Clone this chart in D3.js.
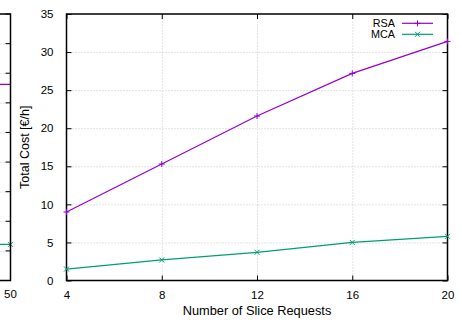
<!DOCTYPE html>
<html>
<head>
<meta charset="utf-8">
<script src="https://cdn.jsdelivr.net/npm/d3@7"></script>
<style>
  body { margin: 0; background: #fff; }
  text { font-family: "Liberation Sans", Arial, sans-serif; font-size: 11px; fill: #000; }
  .grid line { stroke: #c8c8c8; stroke-dasharray: 1,2; }
  .grid path { display: none; }
</style>
</head>
<body>
<div id="chart"></div>
<script>
// slice request counts on x
var requests = [4, 8, 12, 16, 20];
var rsaCost = [9.0, 15.3, 21.6, 27.2, 31.4];
var mcaCost = [1.5, 2.7, 3.7, 5.0, 5.8];
var yTicks = [0, 5, 10, 15, 20, 25, 30, 35];

// edge of the neighbouring plot (only its last x value shows)
var leftX = [50];
var leftRSA = [33.1];
var leftMCA = [6.1];
var leftTicks = [0, 5, 10, 15, 20, 25, 30, 35, 40, 45];

var W = 462, H = 324;
var margin = {top: 14, left: 66.5, right: 14.5, bottom: 43.5};
var width = W - margin.left - margin.right,
    height = H - margin.top - margin.bottom;

var purple = "#9400d3", green = "#009e73";
var fontFam = "Liberation Sans, Arial, sans-serif";

var svg = d3.select("#chart").append("svg")
    .attr("width", W)
    .attr("height", H);

// ---- neighbouring plot, clipped at the left ----
var lx = d3.scaleLinear().domain([40, 50]).range([-300, 10.5]);
var ly = d3.scaleLinear().domain([0, 45]).range([margin.top + height, margin.top]);

var lg = svg.append("g");
lg.append("g")
    .attr("class", "grid")
    .attr("transform", "translate(10.5,0)")
    .call(d3.axisLeft(ly).tickValues(leftTicks).tickSize(20).tickFormat(""));
lg.selectAll(".ltick").data(leftTicks).enter().append("line")
    .attr("x1", 5.5).attr("x2", 10.5)
    .attr("y1", function(d) { return ly(d); })
    .attr("y2", function(d) { return ly(d); })
    .attr("stroke", "#000");
lg.append("line").attr("x1", lx(40)).attr("x2", lx(50))
    .attr("y1", ly(leftRSA[0])).attr("y2", ly(leftRSA[0]))
    .attr("stroke", purple).attr("stroke-width", 1.2);
lg.append("line").attr("x1", lx(40)).attr("x2", lx(50))
    .attr("y1", ly(leftMCA[0])).attr("y2", ly(leftMCA[0]))
    .attr("stroke", green).attr("stroke-width", 1.2);
lg.append("path")
    .attr("d", "M" + (lx(leftX[0]) - 2.5) + "," + (ly(leftMCA[0]) - 2.5) + "l5,5M" + (lx(leftX[0]) - 2.5) + "," + (ly(leftMCA[0]) + 2.5) + "l5,-5")
    .attr("stroke", green).attr("stroke-width", 1);
lg.append("path")
    .attr("d", "M-5," + margin.top + "H10.5V" + (margin.top + height) + "H-5")
    .attr("fill", "none").attr("stroke", "#000").attr("stroke-width", 1.5);
lg.append("text").attr("x", lx(leftX[0])).attr("y", margin.top + height + 17)
    .attr("text-anchor", "middle").style("font-size", "11.5px").text(leftX[0]);

// ---- main plot ----
var g = svg.append("g")
    .attr("transform", "translate(" + margin.left + "," + margin.top + ")");

var x = d3.scaleLinear().domain([4, 20]).range([0, width]);
var y = d3.scaleLinear().domain([0, 35]).range([height, 0]);

// gridlines
g.append("g")
    .attr("class", "grid")
    .call(d3.axisLeft(y).tickValues(yTicks.slice(1, -1)).tickSize(-width).tickFormat(""));
g.append("g")
    .attr("class", "grid")
    .attr("transform", "translate(0," + height + ")")
    .call(d3.axisBottom(x).tickValues(requests.slice(1, -1)).tickSize(-height).tickFormat(""));

// axes with inward ticks on all sides
var ax = function(sel) {
    sel.select(".domain").remove();
    sel.selectAll("line").attr("stroke", "#000");
    sel.selectAll("text").style("font-size", "11.5px").style("font-family", fontFam);
};
g.append("g").call(d3.axisLeft(y).tickValues(yTicks).tickSize(-5).tickPadding(13)).call(ax);
g.append("g").attr("transform", "translate(" + width + ",0)")
    .call(d3.axisRight(y).tickValues(yTicks).tickSize(-5).tickFormat("")).call(ax);
g.append("g").attr("transform", "translate(0," + height + ")")
    .call(d3.axisBottom(x).tickValues(requests).tickSize(-5).tickPadding(10)).call(ax);
g.append("g")
    .call(d3.axisTop(x).tickValues(requests).tickSize(-5).tickFormat("")).call(ax);

g.append("rect").attr("width", width).attr("height", height)
    .attr("fill", "none").attr("stroke", "#000").attr("stroke-width", 1.5);

// lines
var line = d3.line()
    .x(function(d, i) { return x(requests[i]); })
    .y(function(d) { return y(d); });

function plus(sel, color) {
    sel.append("path")
        .attr("d", function(d, i) { var px = x(requests[i]), py = y(d); return "M" + (px - 3) + "," + py + "h6M" + px + "," + (py - 3) + "v6"; })
        .attr("stroke", color).attr("stroke-width", 1);
}
function cross(sel, color) {
    sel.append("path")
        .attr("d", function(d, i) { var px = x(requests[i]), py = y(d); return "M" + (px - 2.5) + "," + (py - 2.5) + "l5,5M" + (px - 2.5) + "," + (py + 2.5) + "l5,-5"; })
        .attr("stroke", color).attr("stroke-width", 1);
}

g.append("path").datum(rsaCost).attr("d", line)
    .attr("fill", "none").attr("stroke", purple).attr("stroke-width", 1.2);
plus(g.selectAll(".rp").data(rsaCost).enter().append("g"), purple);

g.append("path").datum(mcaCost).attr("d", line)
    .attr("fill", "none").attr("stroke", green).attr("stroke-width", 1.2);
cross(g.selectAll(".mp").data(mcaCost).enter().append("g"), green);

// legend
var legend = [["RSA", purple, "plus"], ["MCA", green, "cross"]];
legend.forEach(function(l, i) {
    var ly0 = 9.3 + i * 11;
    g.append("text").attr("x", 328.5).attr("y", ly0 + 4).attr("text-anchor", "end")
        .style("font-size", "10.8px").text(l[0]);
    g.append("line").attr("x1", 335.5).attr("x2", 366.5).attr("y1", ly0).attr("y2", ly0)
        .attr("stroke", l[1]).attr("stroke-width", 1.2);
    var cx = 351;
    g.append("path")
        .attr("d", l[2] == "plus"
            ? "M" + (cx - 3) + "," + ly0 + "h6M" + cx + "," + (ly0 - 3) + "v6"
            : "M" + (cx - 2.5) + "," + (ly0 - 2.5) + "l5,5M" + (cx - 2.5) + "," + (ly0 + 2.5) + "l5,-5")
        .attr("stroke", l[1]).attr("stroke-width", 1);
});

// axis labels
svg.append("text")
    .attr("x", margin.left + width / 2).attr("y", 315)
    .attr("text-anchor", "middle")
    .style("font-size", "12.8px")
    .text("Number of Slice Requests");
svg.append("text")
    .attr("transform", "translate(28.5," + (margin.top + height / 2) + ") rotate(-90)")
    .attr("text-anchor", "middle")
    .style("font-size", "12.5px")
    .text("Total Cost [€/h]");
</script>
</body>
</html>
